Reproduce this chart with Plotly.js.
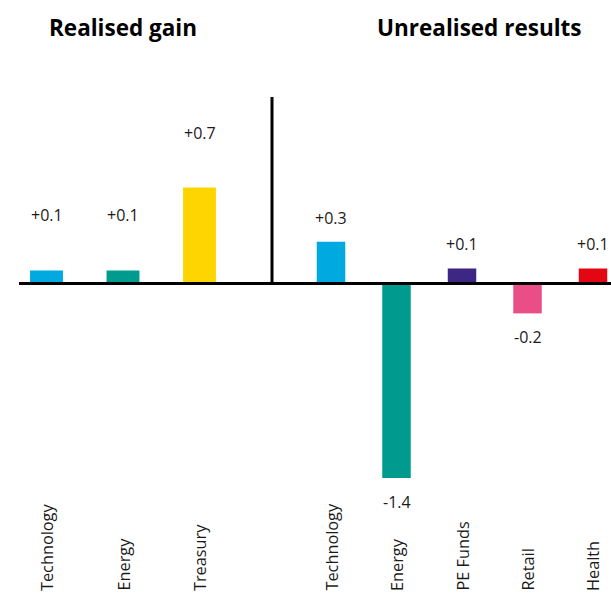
<!DOCTYPE html>
<html>
<head>
<meta charset="utf-8">
<script src="https://cdn.plot.ly/plotly-3.0.1.min.js"></script>
<style>html,body{margin:0;padding:0;background:#fff;}#chart{width:611px;height:593px;}</style>
</head>
<body>
<div id="chart"></div>
<script>
// ---- data ----
const realisedCategories = ["Technology", "Energy", "Treasury"];
const realisedValues = [0.094, 0.094, 0.69];
const realisedLabels = ["+0.1", "+0.1", "+0.7"];
const realisedColors = ["#00A9E0", "#009B8F", "#FFD500"];

const unrealisedCategories = ["Technology", "Energy", "PE Funds", "Retail", "Health"];
const unrealisedValues = [0.30, -1.40, 0.108, -0.215, 0.108];
const unrealisedLabels = ["+0.3", "-1.4", "+0.1", "-0.2", "+0.1"];
const unrealisedColors = ["#00A9E0", "#009B8F", "#3E2784", "#E94E87", "#E30613"];

const panelTitles = ["Realised gain", "Unrealised results"];

// ---- layout helpers ----
const W = 611, H = 593;
const FONT = "Open Sans, Noto Sans, sans-serif";
const TXT = "#1a1a1a";
const splitPx = 272;
const zeroPx = 283.5, pxPerUnit = 139;
const yRange = [-(H - zeroPx) / pxPerUnit, zeroPx / pxPerUnit];

const traces = [
  {type: "bar", x: realisedCategories, y: realisedValues, xaxis: "x", yaxis: "y",
   marker: {color: realisedColors}, width: 0.43, hoverinfo: "skip"},
  {type: "bar", x: unrealisedCategories, y: unrealisedValues, xaxis: "x2", yaxis: "y",
   marker: {color: unrealisedColors}, width: 0.435, hoverinfo: "skip"}
];

const annotations = [];
function addValueLabels(cats, vals, labels, xref, offset) {
  cats.forEach((c, i) => {
    annotations.push({x: c, y: vals[i], xref: xref, yref: "y", text: labels[i], showarrow: false,
      yanchor: "middle", yshift: vals[i] >= 0 ? offset : -offset,
      font: {family: FONT, size: 16, color: TXT}});
  });
}
function addCatLabels(cats, xref) {
  cats.forEach(c => {
    annotations.push({x: c, y: 0, xref: xref, yref: "paper", text: c, showarrow: false,
      textangle: -90, yanchor: "bottom", xanchor: "center",
      font: {family: FONT, size: 16.3, color: TXT}});
  });
}
addValueLabels(realisedCategories, realisedValues, realisedLabels, "x", 55);
addValueLabels(unrealisedCategories, unrealisedValues, unrealisedLabels, "x2", 24);
addCatLabels(realisedCategories, "x");
addCatLabels(unrealisedCategories, "x2");

annotations.push({x: 123 / W, y: 1 - 28 / H, xref: "paper", yref: "paper", text: "<b>" + panelTitles[0] + "</b>",
  showarrow: false, xanchor: "center", yanchor: "middle", font: {family: FONT, size: 22.5, color: "#000"}});
annotations.push({x: 479 / W, y: 1 - 28 / H, xref: "paper", yref: "paper", text: "<b>" + panelTitles[1] + "</b>",
  showarrow: false, xanchor: "center", yanchor: "middle", font: {family: FONT, size: 22.5, color: "#000"}});

const leftStep = 76.5, leftFirst = 46.5;
const rightStep = 65.5, rightFirst = 331;

const layout = {
  width: W, height: H,
  margin: {l: 0, r: 0, t: 0, b: 0},
  paper_bgcolor: "#fff", plot_bgcolor: "#fff",
  showlegend: false,
  xaxis: {domain: [0, splitPx / W], type: "category",
    range: [-leftFirst / leftStep, (splitPx - leftFirst) / leftStep],
    showticklabels: false, showgrid: false, zeroline: false, showline: false, ticks: ""},
  xaxis2: {domain: [splitPx / W, 1], type: "category",
    range: [(splitPx - rightFirst) / rightStep, (W - rightFirst) / rightStep],
    showticklabels: false, showgrid: false, zeroline: false, showline: false, ticks: ""},
  yaxis: {range: yRange, showticklabels: false, showgrid: false, zeroline: false, showline: false, ticks: ""},
  annotations: annotations,
  shapes: [
    {type: "line", xref: "paper", yref: "y", x0: 19 / W, x1: 1, y0: 0, y1: 0, line: {color: "#000", width: 3}},
    {type: "line", xref: "paper", yref: "paper", x0: splitPx / W, x1: splitPx / W, y0: 1 - 97 / H, y1: 1 - zeroPx / H,
      line: {color: "#000", width: 3}}
  ]
};

Plotly.newPlot("chart", traces, layout, {displayModeBar: false, staticPlot: true});
</script>
</body>
</html>
